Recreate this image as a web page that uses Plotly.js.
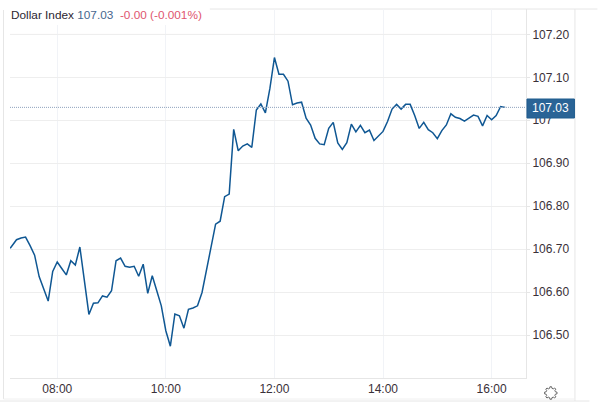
<!DOCTYPE html>
<html><head><meta charset="utf-8">
<script src="https://cdn.plot.ly/plotly-3.0.1.min.js"></script>
<style>html,body{margin:0;padding:0;background:#fff}#c{width:600px;height:416px}</style>
</head><body><div id="c"></div>
<script>
const times = ["07:08","07:10","07:15","07:20","07:25","07:30","07:35","07:40","07:45","07:50","07:55",
"08:00","08:05","08:10","08:15","08:20","08:25","08:30","08:35","08:40","08:45","08:50","08:55",
"09:00","09:05","09:10","09:15","09:20","09:25","09:30","09:35","09:40","09:45","09:50","09:55",
"10:00","10:05","10:10","10:15","10:20","10:25","10:30","10:35","10:40","10:45","10:50","10:55",
"11:00","11:05","11:10","11:15","11:20","11:25","11:30","11:35","11:40","11:45","11:50","11:55",
"12:00","12:05","12:10","12:15","12:20","12:25","12:30","12:35","12:40","12:45","12:50","12:55",
"13:00","13:05","13:10","13:15","13:20","13:25","13:30","13:35","13:40","13:45","13:50","13:55",
"14:00","14:05","14:10","14:15","14:20","14:25","14:30","14:35","14:40","14:45","14:50","14:55",
"15:00","15:05","15:10","15:15","15:20","15:25","15:30","15:35","15:40","15:45","15:50","15:55",
"16:00","16:05","16:10","16:15"];
const values = [106.702,106.708,106.722,106.726,106.728,106.708,106.686,106.636,106.609,106.579,106.648,
106.670,106.655,106.640,106.673,106.663,106.705,106.626,106.548,106.574,106.575,106.591,106.588,
106.603,106.673,106.679,106.660,106.658,106.660,106.637,106.665,106.597,106.638,106.603,106.568,
106.510,106.474,106.549,106.545,106.516,106.560,106.563,106.568,106.599,106.650,106.700,106.758,
106.765,106.822,106.828,106.979,106.929,106.940,106.945,106.937,107.024,107.038,107.017,107.074,
107.146,107.107,107.107,107.091,107.036,107.040,107.042,107.005,106.989,106.958,106.945,106.943,
106.981,106.995,106.947,106.932,106.948,106.991,106.973,106.988,106.971,106.977,106.953,106.963,
106.974,106.997,107.026,107.037,107.026,107.037,107.037,107.011,106.981,106.995,106.978,106.971,
106.957,106.976,106.989,107.015,107.007,107.004,106.998,107.005,107.012,107.009,106.987,107.011,
107.001,107.011,107.032,107.030];
const lastPrice = 107.03;
const yTicks = [106.5,106.6,106.7,106.8,106.9,107,107.1,107.2];
const yLabels = ["106.50","106.60","106.70","106.80","106.90","107","107.10","107.20"];
const xTicks = ["08:00","10:00","12:00","14:00","16:00"];
const day = "2024-01-02 ";
const font = "Liberation Sans, Arial, sans-serif";
const frame = "#e6e6e6";
const line = (x0,y0,x1,y1,c) => ({type:"line",xref:"paper",yref:"paper",x0,y0,x1,y1,line:{color:c||frame,width:1},layer:"below"});
const W=516.5,H=369,L=10,T=9;
const px=x=>(x-L)/W, py=y=>1-(y-T)/H;
// settings gear outline, in pixels around its centre
function gearPath(){
  const teeth=8, ro=6.3, ri=4.8; let d="";
  for(let i=0;i<teeth;i++){
    const a=i*2*Math.PI/teeth, s=Math.PI/teeth;
    const pts=[[ri,a-s*0.62],[ro,a-s*0.34],[ro,a+s*0.34],[ri,a+s*0.62]];
    pts.forEach((p,k)=>{d+=((i===0&&k===0)?"M":"L")+(p[0]*Math.cos(p[1])).toFixed(2)+","+(p[0]*Math.sin(p[1])).toFixed(2);});
  }
  d+="Z M2.3,0 A2.3,2.3 0 1 0 -2.3,0 A2.3,2.3 0 1 0 2.3,0 Z";
  return d;
}
Plotly.newPlot("c",[{
  x:times.map(t=>day+t), y:values, type:"scatter", mode:"lines",
  line:{color:"#0f5793",width:1.5,shape:"linear"}, hoverinfo:"skip"
}],{
  width:600,height:416,
  margin:{l:10,r:73.5,t:9,b:38,pad:0},
  paper_bgcolor:"#fff",plot_bgcolor:"#fff",showlegend:false,
  font:{family:font,size:12,color:"#333"},
  xaxis:{type:"date",range:[day+"07:07:48",day+"16:38:00"],
    tickvals:xTicks.map(t=>day+t),ticktext:xTicks,tickmode:"array",
    showgrid:true,gridcolor:"#f1f3f7",gridwidth:1,
    ticks:"",showline:true,linecolor:"#e6e6e6",linewidth:1,zeroline:false,
    tickfont:{family:font,size:12,color:"#3a3038"}},
  yaxis:{side:"right",range:[106.4,107.259],tickmode:"array",tickvals:yTicks,ticktext:yLabels,
    showgrid:true,gridcolor:"#eeeeee",gridwidth:1,zeroline:false,
    ticks:"outside",ticklen:3,tickcolor:"#e6e6e6",showline:true,linecolor:"#e6e6e6",linewidth:1,
    tickfont:{family:font,size:12,color:"#3a3038"}},
  shapes:[
    {type:"rect",xref:"paper",yref:"paper",x0:px(10),x1:px(210),y0:py(8),y1:py(25),fillcolor:"#fff",line:{width:0},layer:"above"},
    {type:"line",xref:"paper",yref:"y",x0:0,x1:1,y0:lastPrice,y1:lastPrice,line:{color:"#8fa3bd",width:1,dash:"1px,1px"}},
    {type:"line",xref:"paper",yref:"y",x0:0,x1:1,y0:107.2,y1:107.2,line:{color:"#f8eff1",width:1},layer:"below"},
    line(px(3.5),py(10),px(3.5),py(399)),
    line(px(48),py(9),px(598),py(9)),
    line(px(575.5),py(9),px(575.5),py(401)),
    line(px(0),py(401),px(590),py(401)),
    line(px(3.5),py(399),px(575.5),py(399),"#f0f0f0"),
    {type:"rect",xref:"paper",yref:"paper",x0:px(527.5),x1:px(575),y0:py(99),y1:py(118),fillcolor:"#2a6496",line:{color:"#1f5c8e",width:1}},
    {type:"path",xref:"paper",yref:"paper",xsizemode:"pixel",ysizemode:"pixel",xanchor:px(551.3),yanchor:py(393),
     path:gearPath(),line:{color:"#666",width:1},fillcolor:"rgba(0,0,0,0)"}
  ],
  annotations:[
    {xref:"paper",yref:"paper",x:px(9),y:py(15),xanchor:"left",yanchor:"middle",showarrow:false,
     font:{family:font,size:11.8,color:"#2b2530"},
     text:'Dollar Index <span style="color:#47688f">107.03</span>  <span style="color:#e0566f">-0.00 (-0.001%)</span>'},
    {xref:"paper",yref:"paper",x:px(551.5),y:py(108.5),xanchor:"center",yanchor:"middle",showarrow:false,
     font:{family:font,size:12,color:"#ffffff"},text:"107.03"}
  ]
},{displayModeBar:false,staticPlot:true});
</script></body></html>
